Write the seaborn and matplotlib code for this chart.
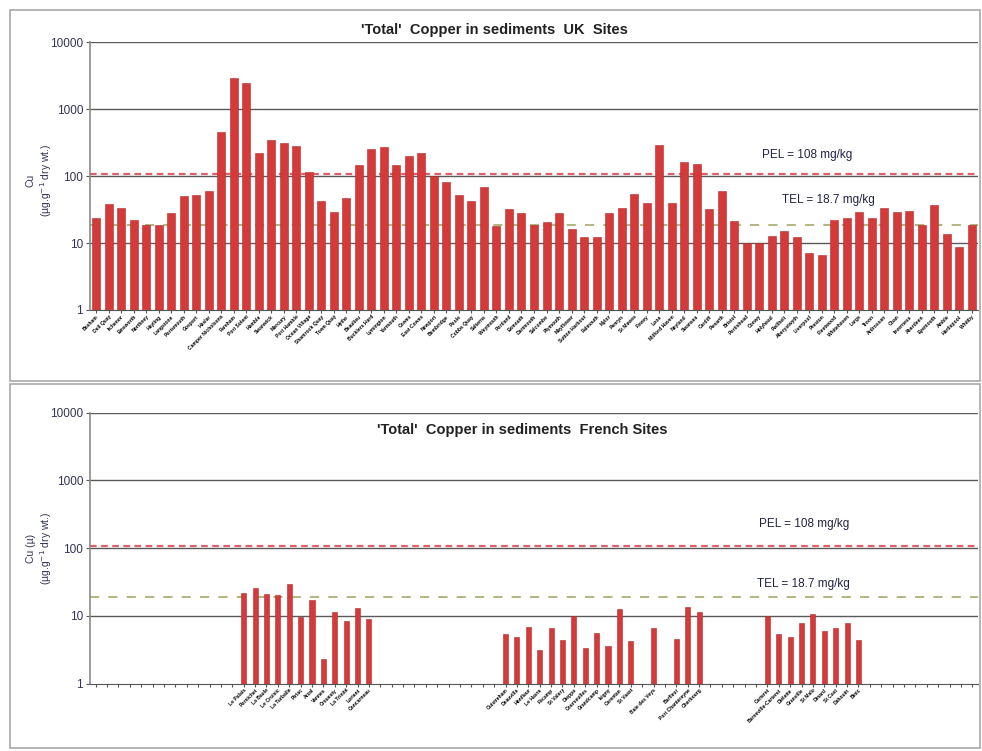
import numpy as np
import pandas as pd
import matplotlib
matplotlib.use("Agg")
import matplotlib.pyplot as plt
import seaborn as sns
from matplotlib.patches import Rectangle

# UK sites (labels unreadable in source, names are placeholders)
uk_sites = ["Bosham", "Dell Quay", "Itchenor", "Emsworth", "Northney", "Hayling",
            "Langstone", "Portsmouth", "Gosport", "Haslar", "Camper Nicholsons",
            "Fareham", "Port Solent", "Hamble", "Swanwick", "Mercury", "Port Hamble",
            "Ocean Village", "Shamrock Quay", "Town Quay", "Hythe", "Beaulieu",
            "Bucklers Hard", "Lymington", "Yarmouth", "Cowes", "East Cowes", "Newport",
            "Bembridge", "Poole", "Cobbs Quay", "Salterns", "Weymouth", "Portland",
            "Exmouth", "Dartmouth", "Salcombe", "Plymouth", "Mayflower",
            "Sutton Harbour", "Falmouth", "Mylor", "Penryn", "St Mawes", "Fowey",
            "Looe", "Milford Haven", "Neyland", "Swansea", "Cardiff", "Penarth",
            "Bristol", "Portishead", "Conwy", "Holyhead", "Pwllheli", "Aberystwyth",
            "Liverpool", "Preston", "Fleetwood", "Whitehaven", "Largs", "Troon",
            "Ardrossan", "Oban", "Inverness", "Aberdeen", "Eyemouth", "Amble",
            "Hartlepool", "Whitby"]
uk_cu = [24, 38, 34, 22, 18.4, 18.4, 28, 50, 52, 61, 457, 2917, 2512, 224, 343,
         316, 282, 116, 43, 29, 47, 145, 257, 272, 145, 204, 224, 102, 82, 52,
         42, 68, 17.8, 32, 28, 18.8, 20.4, 28, 16.4, 12.3, 12.3, 28, 34, 54, 40,
         292, 40, 164, 155, 32, 61, 21.6, 10.2, 10.2, 12.6, 15.3, 12.3, 7.2, 6.7,
         22.4, 23.7, 29, 23.7, 34, 29, 30.5, 18.8, 37, 13.8, 8.9, 18.8]

# French sites, "" = empty slot on the axis
fr_sites = [""] * 13 + [
    "Le Palais", "Pornichet", "La Baule", "Le Croisic", "La Turballe", "Piriac",
    "Arzal", "Vannes", "Crouesty", "La Trinité", "Lorient", "Concarneau"] + [""] * 11 + [
    "Ouistreham", "Deauville", "Honfleur", "Le Havre", "Fécamp", "St Valery",
    "Dieppe", "Courseulles", "Grandcamp", "Isigny", "Carentan", "St Vaast",
    "", "Baie des Veys", "", "Barfleur", "Port Chantereyne", "Cherbourg"] + [""] * 5 + [
    "Carteret", "Barneville-Carteret", "Diélette", "Granville", "St Malo",
    "Dinard", "St Cast", "Dahouët", "Binic"] + [""] * 10
fr_cu = [np.nan] * 13 + [
    21.9, 26, 21, 20.3, 29.7, 9.7, 17, 2.3, 11.2, 8.3, 13, 9] + [np.nan] * 11 + [
    5.4, 4.8, 6.9, 3.1, 6.7, 4.4, 10, 3.4, 5.5, 3.6, 12.5, 4.3,
    np.nan, 6.7, np.nan, 4.5, 13.7, 11.2] + [np.nan] * 5 + [
    10, 5.3, 4.8, 7.7, 10.6, 5.9, 6.6, 7.8, 4.4] + [np.nan] * 10

PEL = 108
TEL = 18.7

plt.rcParams['font.family'] = ['Liberation Sans', 'DejaVu Sans']

bar_color = "#d43a3a"
grid_color = "#5a5a5a"

fig = plt.figure(figsize=(9.82, 7.51), dpi=100)

# panel frames
for (x0, y0, x1, y1) in [(10, 10, 980, 381), (10, 384, 980, 748)]:
    fig.patches.append(Rectangle((x0 / 982, 1 - y1 / 751), (x1 - x0) / 982, (y1 - y0) / 751,
                                 transform=fig.transFigure, fill=False,
                                 edgecolor="#a8a8a8", lw=1.2))

ax1 = fig.add_axes([90 / 982, 1 - 310 / 751, 888 / 982, (310 - 42.5) / 751])
ax2 = fig.add_axes([90 / 982, 1 - 683.5 / 751, 888 / 982, (683.5 - 412.7) / 751])


def style_axis(ax):
    ax.set_yscale("log")
    ax.set_ylim(1, 10000)
    ax.set_yticks([1, 10, 100, 1000, 10000])
    ax.set_yticklabels(["1", "10", "100", "1000", "10000"], fontsize=8.5, color="#333355")
    ax.yaxis.set_minor_locator(matplotlib.ticker.NullLocator())
    for y in [10, 100, 1000, 10000]:
        ax.axhline(y, color=grid_color, lw=1.0, zorder=0)
    for s in ["top", "right"]:
        ax.spines[s].set_visible(False)
    ax.spines["left"].set_color("#8a8a8a")
    ax.spines["left"].set_linewidth(1.2)
    ax.spines["bottom"].set_color("#555555")
    ax.tick_params(axis="y", length=3, color="#555555", pad=2)
    ax.tick_params(axis="x", length=2, color="#555555", pad=1)
    ax.set_xlabel("")
    ax.set_ylabel("")
    ax.set_facecolor("white")


# UK panel
uk_df = pd.DataFrame({"site": uk_sites, "cu": uk_cu})
sns.barplot(data=uk_df, x="site", y="cu", ax=ax1, color=bar_color, width=0.64,
            saturation=1, edgecolor="#b02a2a", linewidth=0.4, zorder=2)
style_axis(ax1)
ax1.set_xlim(-0.5, len(uk_sites) - 0.5)
ax1.set_xticks(range(len(uk_sites)))
ax1.set_xticklabels(uk_sites, rotation=45, ha="right", rotation_mode="anchor",
                    fontsize=3.6, fontweight="bold")
ax1.axhline(PEL, color="#e0606a", lw=1.6, ls=(0, (3, 2)), zorder=1)
ax1.axhline(TEL, color="#a0a060", lw=1.1, ls=(0, (6, 6)), zorder=1)
ax1.text(56.8, 205, "PEL = 108 mg/kg", fontsize=8.5, ha="center", va="center", color="#222244")
ax1.text(58.5, 44, "TEL = 18.7 mg/kg", fontsize=8.5, ha="center", va="center", color="#222244")

# French panel
fr_keys = [str(i) for i in range(len(fr_sites))]
fr_df = pd.DataFrame({"key": fr_keys, "cu": fr_cu})
sns.barplot(data=fr_df, x="key", y="cu", order=fr_keys, ax=ax2, color=bar_color,
            width=0.45, saturation=1, edgecolor="#b02a2a", linewidth=0.4, zorder=2)
style_axis(ax2)
ax2.set_xlim(-0.5, len(fr_sites) - 0.5)
ax2.set_xticks(range(len(fr_sites)))
ax2.set_xticklabels(fr_sites, rotation=45, ha="right", rotation_mode="anchor",
                    fontsize=3.6, fontweight="bold")
ax2.axhline(PEL, color="#e0606a", lw=1.6, ls=(0, (3, 2)), zorder=1)
ax2.axhline(TEL, color="#a0a060", lw=1.1, ls=(0, (6, 6)), zorder=1)
ax2.text(62.2, 230, "PEL = 108 mg/kg", fontsize=8.5, ha="center", va="center", color="#222244")
ax2.text(62.2, 29.4, "TEL = 18.7 mg/kg", fontsize=8.5, ha="center", va="center", color="#222244")
ax2.text(37.5, 5600, "'Total'  Copper in sediments  French Sites", fontsize=10.5,
         fontweight="bold", ha="center", va="center", color="#222222")

# titles and y labels
fig.text(494 / 982, 1 - 30 / 751, "'Total'  Copper in sediments  UK  Sites", fontsize=10.5,
         fontweight="bold", ha="center", va="center", color="#222222")
fig.text(40 / 982, 1 - 180 / 751, "Cu\n(µg.g$^{-1}$ dry wt.)", rotation=90, fontsize=7.5,
         ha="center", va="center", color="#333355", linespacing=1.2)
fig.text(40 / 982, 1 - 548 / 751, "Cu (µ)\n(µg.g$^{-1}$ dry wt.)", rotation=90, fontsize=7.5,
         ha="center", va="center", color="#333355", linespacing=1.2)

fig.savefig("out.png", dpi=100)
